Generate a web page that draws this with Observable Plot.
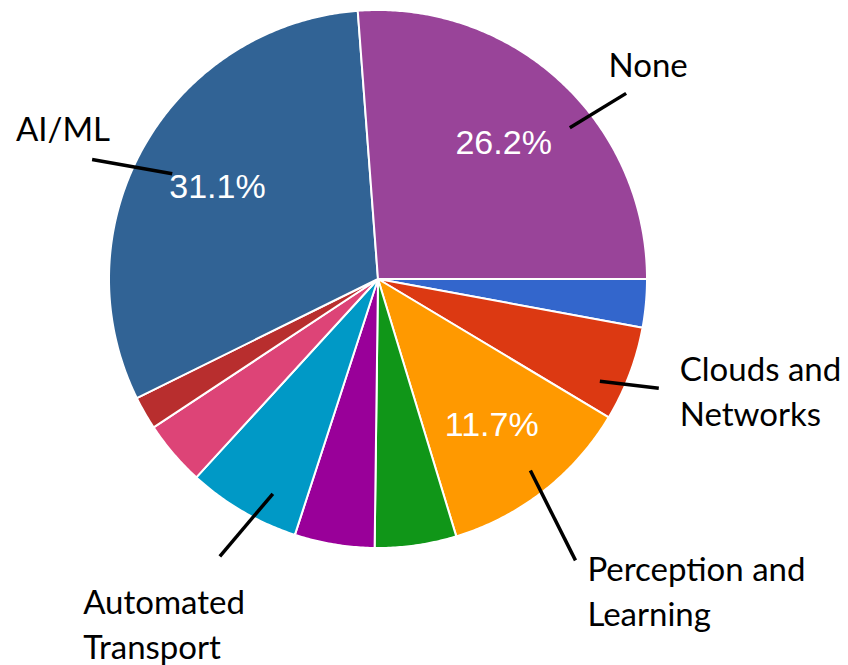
<!DOCTYPE html>
<html>
<head>
<meta charset="utf-8">
<script src="https://cdn.jsdelivr.net/npm/d3@7"></script>
<script src="https://cdn.jsdelivr.net/npm/@observablehq/plot@0.6"></script>
<style>
  html, body { margin: 0; padding: 0; background: #ffffff; }
  #chart svg { display: block; }
</style>
</head>
<body>
<div id="chart"></div>
<script>
// ---- data (in drawing order, clockwise from the 3 o'clock position) ----
const categories = ["Other A", "Clouds and Networks", "Perception and Learning", "Other B", "Other C",
                    "Automated Transport", "Other D", "Other E", "AI/ML", "None"];
const shares = [2.9, 5.7, 11.7, 4.9, 4.8, 6.8, 3.9, 2.0, 31.1, 26.2];
const colors = ["#3366cc", "#dc3912", "#ff9900", "#109618", "#990099",
                "#0099c6", "#dd4477", "#b82e2e", "#316395", "#994499"];
const annotationSlices = ["None", "AI/ML", "Clouds and Networks", "Perception and Learning", "Automated Transport"];
const annotationTexts = ["None", "AI/ML", "Clouds and\nNetworks", "Perception and\nLearning", "Automated\nTransport"];

// ---- layout (positions / styles, kept apart from the data) ----
const layout = { width: 848, height: 665, cx: 377.5, cy: 278.5, R: 269, startDeg: 90, pctR: 0.687, pctMin: 10 };
// offsets relative to each slice's mid angle (deg) and radii in units of R
const annotationLayout = [
  { a1: 8.91, r1: 0.908, a2: 10.36, r2: 1.152, at: 8.44, rt: 1.287, anchor: "middle" },
  { a1: -2.63, r1: 0.859, a2: -7.0, r2: 1.152, at: -3.88, rt: 1.301, anchor: "middle" },
  { a1: 4.04, r1: 0.908, a2: 0.55, r2: 1.12, at: -0.66, rt: 1.194, anchor: "start" },
  { a1: -0.52, r1: 0.91, a2: 2.92, r2: 1.278, at: 3.98, rt: 1.392, anchor: "start" },
  { a1: -4.15, r1: 0.889, a2: -0.55, r2: 1.187, at: 10.4, rt: 1.683, anchor: "start" }
];

// ---- build slices ----
const total = d3.sum(shares);
const rad = d => d * Math.PI / 180;
const polar = (deg, r) => ({ X: r * Math.sin(rad(deg)), Y: r * Math.cos(rad(deg)) });

let acc = 0;
const slices = categories.map((name, i) => {
  const a0 = layout.startDeg + acc / total * 360;
  acc += shares[i];
  const a1 = layout.startDeg + acc / total * 360;
  return { name, value: shares[i], pct: shares[i] / total * 100, a0, a1, mid: (a0 + a1) / 2 };
});

const slicePoints = [];
for (const s of slices) {
  slicePoints.push({ name: s.name, ...polar(0, 0) });
  const n = Math.max(2, Math.ceil((s.a1 - s.a0) / 0.5));
  for (let k = 0; k <= n; k++) {
    const a = s.a0 + (s.a1 - s.a0) * k / n;
    slicePoints.push({ name: s.name, ...polar(a, 1) });
  }
}

const pctLabels = slices.filter(s => s.pct >= layout.pctMin)
  .map(s => ({ text: s.pct.toFixed(1) + "%", ...polar(s.mid, layout.pctR) }));

const leaders = [], annTexts = [];
annotationSlices.forEach((name, i) => {
  const s = slices.find(d => d.name === name);
  const L = annotationLayout[i];
  const p1 = polar(s.mid + L.a1, L.r1), p2 = polar(s.mid + L.a2, L.r2), pt = polar(s.mid + L.at, L.rt);
  leaders.push({ x1: p1.X, y1: p1.Y, x2: p2.X, y2: p2.Y });
  annTexts.push({ text: annotationTexts[i], X: pt.X, Y: pt.Y, anchor: L.anchor });
});

// scale domains so that one data unit = R pixels, centred at (cx, cy)
const xDomain = [-layout.cx / layout.R, (layout.width - layout.cx) / layout.R];
const yDomain = [-(layout.height - layout.cy) / layout.R, layout.cy / layout.R];

const annFont = "Lato, 'Open Sans', sans-serif";
const chart = Plot.plot({
  width: layout.width,
  height: layout.height,
  margin: 0,
  style: { background: "#ffffff", overflow: "visible" },
  x: { domain: xDomain, axis: null },
  y: { domain: yDomain, axis: null },
  color: { domain: categories, range: colors },
  marks: [
    Plot.line(slicePoints, {
      x: "X", y: "Y", z: "name", fill: "name",
      stroke: "#ffffff", strokeWidth: 2, strokeLinejoin: "round", curve: "linear-closed"
    }),
    Plot.text(pctLabels, {
      x: "X", y: "Y", text: "text", fill: "#ffffff",
      fontSize: 34, fontFamily: "'Liberation Sans', Arial, sans-serif"
    }),
    Plot.link(leaders, {
      x1: "x1", y1: "y1", x2: "x2", y2: "y2",
      stroke: "#000000", strokeWidth: 3.5
    }),
    Plot.text(annTexts.filter(d => d.anchor === "middle"), {
      x: "X", y: "Y", text: "text", fill: "#000000", textAnchor: "middle",
      fontSize: 33, lineHeight: 1.364, fontFamily: annFont
    }),
    Plot.text(annTexts.filter(d => d.anchor === "start"), {
      x: "X", y: "Y", text: "text", fill: "#000000", textAnchor: "start",
      fontSize: 33, lineHeight: 1.364, fontFamily: annFont
    })
  ]
});
document.getElementById("chart").append(chart);
</script>
</body>
</html>
